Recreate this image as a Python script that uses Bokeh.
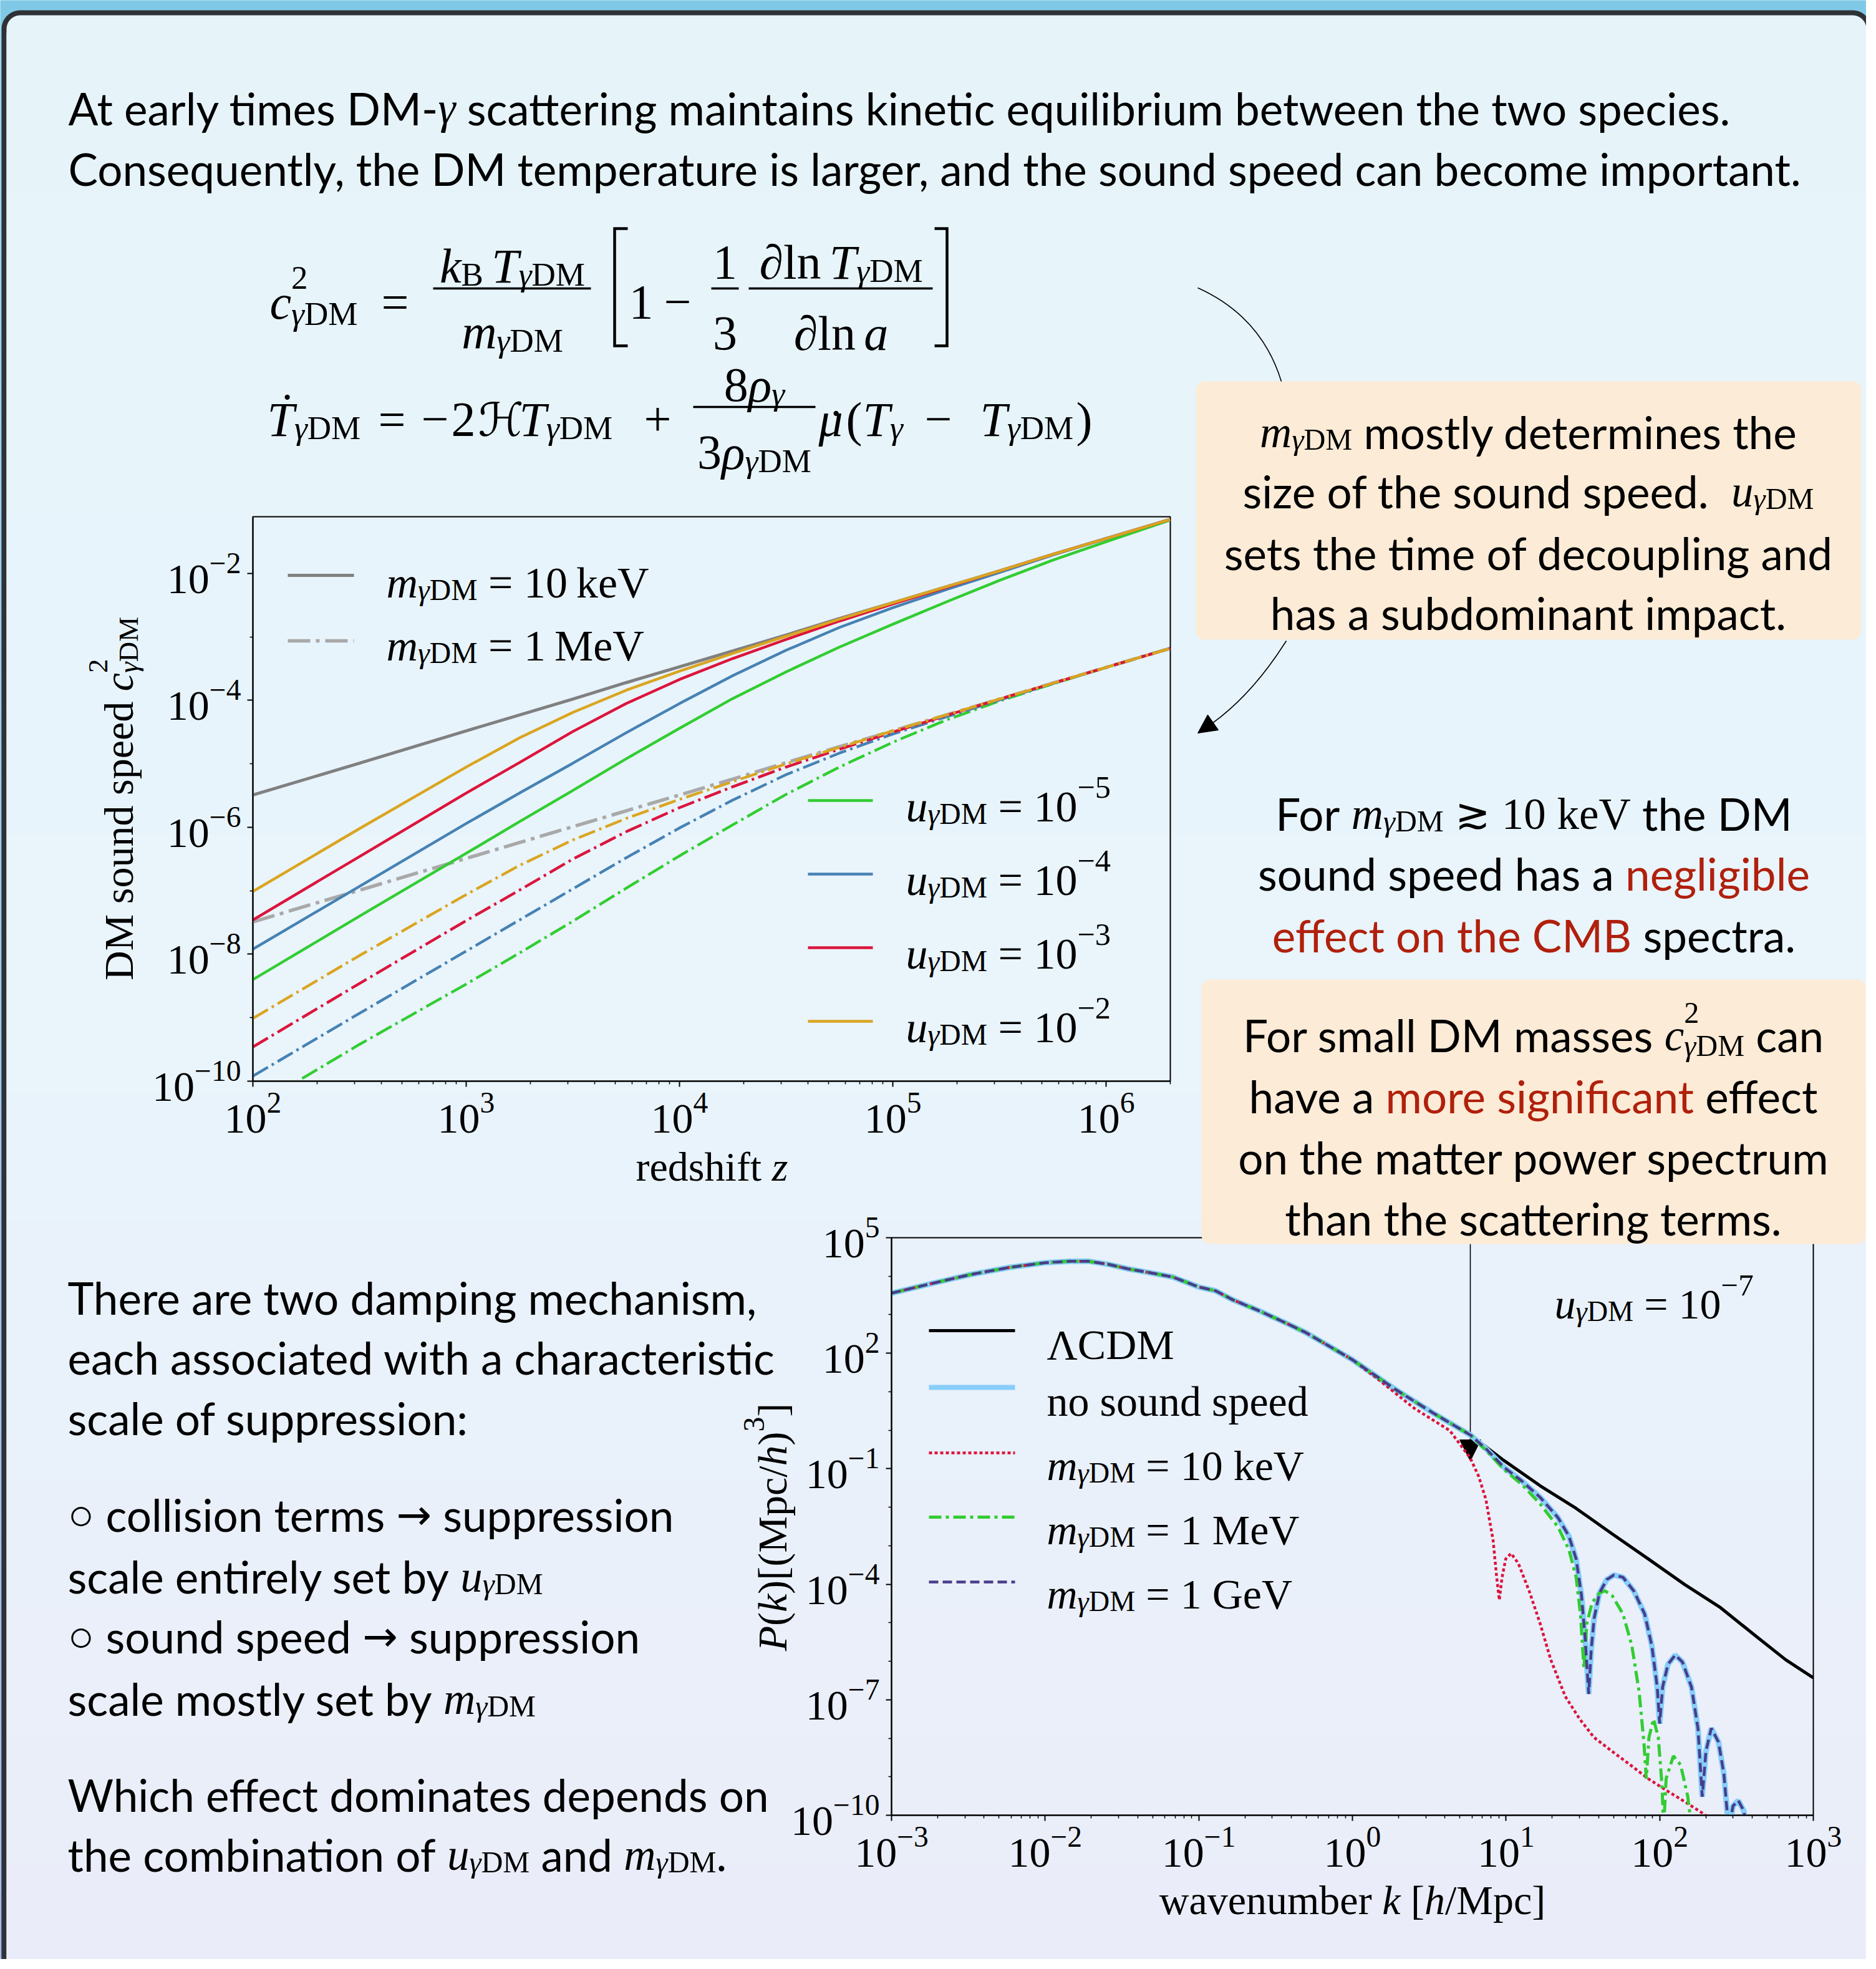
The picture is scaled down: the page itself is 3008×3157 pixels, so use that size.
import glob, os, math
import numpy as np
from bokeh.plotting import figure
from bokeh.models import ColumnDataSource, Range1d, FixedTicker, GridBox, Arrow, NormalHead
from bokeh.core.properties import value, field
from bokeh.embed import file_html
from bokeh.resources import INLINE

try:
    from PIL import ImageFont
except Exception:
    ImageFont = None

# ============================ DATA ============================
# Upper panel: DM sound speed c^2 vs redshift (values read as log10)
log_z = [2.0, 2.5, 3.0, 3.25, 3.5, 3.75, 4.0, 4.25, 4.5, 4.75, 5.0, 5.25, 5.5, 5.75, 6.0, 6.3]
# m = 10 keV (solid)
lc2_10keV_tight = [-5.49, -4.99, -4.48, -4.23, -3.98, -3.72, -3.47, -3.22, -2.97, -2.71, -2.46, -2.21, -1.96, -1.70, -1.45, -1.15]
lc2_10keV_u1e2 = [-7.01, -6.02, -5.05, -4.59, -4.19, -3.84, -3.54, -3.26, -2.99, -2.72, -2.46, -2.21, -1.96, -1.70, -1.45, -1.15]
lc2_10keV_u1e3 = [-7.46, -6.46, -5.46, -4.98, -4.49, -4.05, -3.67, -3.34, -3.04, -2.75, -2.48, -2.22, -1.96, -1.70, -1.45, -1.15]
lc2_10keV_u1e4 = [-7.92, -6.93, -5.94, -5.46, -4.99, -4.51, -4.05, -3.61, -3.21, -2.85, -2.54, -2.255, -1.985, -1.71, -1.45, -1.15]
lc2_10keV_u1e5 = [-8.40, -7.40, -6.41, -5.91, -5.42, -4.92, -4.44, -3.97, -3.55, -3.16, -2.80, -2.45, -2.11, -1.79, -1.50, -1.16]
# m = 1 MeV (dash-dot)
lc2_1MeV_tight = [-7.49, -6.99, -6.49, -6.24, -5.99, -5.74, -5.49, -5.24, -4.98, -4.73, -4.48, -4.23, -3.98, -3.73, -3.48, -3.18]
lc2_1MeV_u1e2 = [-9.01, -8.02, -7.06, -6.60, -6.20, -5.86, -5.56, -5.28, -5.00, -4.74, -4.48, -4.23, -3.98, -3.73, -3.48, -3.18]
lc2_1MeV_u1e3 = [-9.46, -8.46, -7.47, -6.99, -6.50, -6.07, -5.69, -5.36, -5.05, -4.77, -4.50, -4.24, -3.98, -3.73, -3.48, -3.18]
lc2_1MeV_u1e4 = [-9.92, -8.93, -7.95, -7.46, -6.97, -6.48, -6.01, -5.57, -5.17, -4.83, -4.53, -4.26, -3.995, -3.735, -3.48, -3.18]
lc2_1MeV_u1e5 = [-10.42, -9.42, -8.47, -7.98, -7.48, -6.96, -6.45, -5.96, -5.48, -5.05, -4.66, -4.31, -4.01, -3.74, -3.48, -3.18]
u_exponents = ["\u22125", "\u22124", "\u22123", "\u22122"]
u_colors = ["#32cd32", "#4682b4", "#dc143c", "#daa520"]
mass_labels_top = ["10\u2009keV", "1\u2009MeV"]

# Lower panel: matter power spectrum (log10 k, log10 P)
lk_common = [-3.0, -2.75, -2.49, -2.23, -2.0, -1.84, -1.72, -1.59, -1.46, -1.33, -1.17, -1.0,
             -0.89, -0.78, -0.60, -0.42, -0.305, -0.12, 0.0, 0.28, 0.52, 0.77]
lp_common = [3.56, 3.80, 4.04, 4.23, 4.35, 4.39, 4.39, 4.31, 4.19, 4.10, 3.98, 3.72,
             3.62, 3.39, 3.09, 2.76, 2.54, 2.11, 1.83, 1.06, 0.46, -0.13]
lk_lcdm_tail = [0.986, 1.221, 1.456, 1.69, 1.925, 2.16, 2.39, 2.63, 2.82, 3.0]
lp_lcdm_tail = [-0.785, -1.44, -2.03, -2.69, -3.34, -4.0, -4.59, -5.36, -5.96, -6.43]
lk_10keV_tail = [0.165, 0.399, 0.634, 0.768, 0.822, 0.869, 0.916, 0.939, 0.956, 0.974, 0.998, 1.033,
                 1.080, 1.150, 1.221, 1.291, 1.385, 1.479, 1.573, 1.690, 1.808, 1.925, 2.042, 2.160,
                 2.277, 2.35]
lp_10keV_tail = [1.33, 0.58, -0.01, -0.73, -1.20, -1.80, -2.87, -3.82, -4.41, -3.82, -3.34, -3.20,
                 -3.46, -4.17, -5.01, -5.96, -6.91, -7.50, -7.98, -8.34, -8.69, -9.05, -9.35, -9.64,
                 -9.94, -10.15]
lk_1GeV_tail = [0.869, 0.986, 1.103, 1.221, 1.338, 1.409, 1.456, 1.491, 1.514, 1.538, 1.554, 1.573,
                1.608, 1.655, 1.702, 1.761, 1.831, 1.902, 1.949, 1.984, 2.000, 2.019, 2.054, 2.101,
                2.148, 2.207, 2.249, 2.277, 2.301, 2.336, 2.383, 2.418, 2.441, 2.446, 2.477, 2.512,
                2.547, 2.57]
lp_1GeV_tail = [-0.48, -0.96, -1.32, -1.74, -2.27, -2.75, -3.34, -4.29, -5.36, -6.85, -5.72, -4.89,
                -4.23, -3.88, -3.76, -3.82, -4.17, -4.77, -5.60, -6.67, -7.62, -6.67, -6.08, -5.84,
                -6.02, -6.67, -7.74, -9.52, -8.34, -7.74, -8.10, -8.93, -10.0, -10.48, -9.76, -9.62,
                -9.88, -10.48]
lk_nosound_tail = list(lk_1GeV_tail)
lp_nosound_tail = list(lp_1GeV_tail)
lk_1MeV_tail = [0.869, 0.986, 1.103, 1.221, 1.338, 1.409, 1.456, 1.484, 1.507, 1.526, 1.561, 1.608,
                1.643, 1.690, 1.761, 1.819, 1.866, 1.897, 1.913, 1.930, 1.960, 1.991, 2.014, 2.026,
                2.042, 2.089, 2.136, 2.183, 2.207]
lp_1MeV_tail = [-0.52, -1.02, -1.41, -1.91, -2.51, -3.10, -3.82, -4.77, -6.19, -5.01, -4.47, -4.23,
                -4.17, -4.29, -4.77, -5.60, -6.79, -8.10, -9.05, -7.98, -7.50, -7.98, -9.17, -10.3,
                -9.05, -8.46, -8.69, -9.52, -10.3]
pk_labels = ["\u039bCDM", "no sound speed", "10 keV", "1 MeV", "1 GeV"]

# ============================ FONTS / TEXT LAYOUT ============================
FILES = {}
for d in ["/usr/share/fonts", "/usr/local/share/fonts", os.path.expanduser("~/.fonts"),
          os.path.expanduser("~/.local/share/fonts")]:
    for pth in glob.glob(os.path.join(d, "**", "*"), recursive=True):
        if pth.lower().endswith((".ttf", ".otf")):
            FILES.setdefault(os.path.basename(pth).lower(), pth)


def find(*names):
    for n in names:
        if n.lower() in FILES:
            return FILES[n.lower()]
    return None


SANS_FAM, SANS_PATH = "Lato", None
for fam, names in [("Lato", ["Lato-Regular.ttf"]), ("Roboto", ["Roboto-Regular.ttf"]),
                   ("Liberation Sans", ["LiberationSans-Regular.ttf"]), ("DejaVu Sans", ["DejaVuSans.ttf"])]:
    pth = find(*names)
    if pth:
        SANS_FAM, SANS_PATH = fam, pth
        break

SERIF = "Liberation Serif"
PATHS = {"sans": SANS_PATH, "serif": find("LiberationSerif-Regular.ttf"),
         "serif_i": find("LiberationSerif-Italic.ttf"), "djs": find("DejaVuSans.ttf")}
_fonts = {}


def meas(text, key):
    pth = PATHS.get(key)
    if pth and ImageFont is not None:
        f = _fonts.get(pth)
        if f is None:
            try:
                f = ImageFont.truetype(pth, 100)
            except Exception:
                f = False
            _fonts[pth] = f
        if f:
            try:
                return f.getlength(text)
            except Exception:
                pass
    return sum(25 if ch == " " else 50 for ch in text)


INK = "#000000"
RED = "#b0200c"
KINDS = {
    "s": (SANS_FAM, "normal", "sans", 1.0, 0.0, INK),
    "r": (SANS_FAM, "normal", "sans", 1.0, 0.0, RED),
    "mi": (SERIF, "italic", "serif_i", 1.0, 0.0, INK),
    "mr": (SERIF, "normal", "serif", 1.0, 0.0, INK),
    "sub": (SERIF, "normal", "serif", 0.68, 0.17, INK),
    "subi": (SERIF, "italic", "serif_i", 0.68, 0.17, INK),
    "sup": (SERIF, "normal", "serif", 0.72, -0.44, INK),
    "ssub": (SERIF, "normal", "serif", 0.68, 0.24, INK),
    "ssubi": (SERIF, "italic", "serif_i", 0.68, 0.24, INK),
    "ssup": (SERIF, "normal", "serif", 0.68, -0.50, INK),
    "rel": ("DejaVu Sans", "normal", "djs", 0.95, 0.0, INK),
}


def wid(text, kind, size):
    fam, sty, key, f, sh, col = KINDS[kind]
    return meas(text, key) * size * f / 100.0


class Layer:
    def __init__(self):
        self.d = dict(x=[], y=[], text=[], font=[], style=[], size=[], color=[], angle=[])

    def add(self, x, y, text, fam, sty, size, color, angle):
        d = self.d
        d["x"].append(x); d["y"].append(y); d["text"].append(text); d["font"].append(fam)
        d["style"].append(sty); d["size"].append("%.1fpx" % size); d["color"].append(color)
        d["angle"].append(angle)

    def draw(self, fig):
        fig.text(x="x", y="y", text="text", source=ColumnDataSource(self.d),
                 text_font=field("font"), text_font_style=field("style"),
                 text_font_size=field("size"), text_color=field("color"), angle=field("angle"),
                 text_align="left", text_baseline="alphabetic")


def rich(layer, segs, x, y, size, align="left", angle=0.0):
    items = []
    pos = 0.0
    for t, k in segs:
        if k == "ss":
            sup, subs = t
            items.append((sup, "ssup", pos))
            w1 = wid(sup, "ssup", size)
            p2 = pos
            for tt, kk in subs:
                items.append((tt, kk, p2))
                p2 += wid(tt, kk, size)
            pos = max(pos + w1, p2)
        else:
            core = t.strip(" ")
            lead = len(t) - len(t.lstrip(" ")) if core else len(t)
            trail = len(t) - len(t.rstrip(" ")) if core else 0
            sp = wid(" ", k, size)
            pos += lead * sp
            if core:
                items.append((core, k, pos))
                pos += wid(core, k, size)
            pos += trail * sp
    total = pos
    off = {"left": 0.0, "center": total / 2.0, "right": total}[align]
    ca, sa = math.cos(angle), math.sin(angle)
    for text, k, p in items:
        fam, sty, key, f, sh, col = KINDS[k]
        a = p - off
        s = sh * size
        layer.add(x + a * ca + s * sa, y - a * sa + s * ca, text, fam, sty, size * f, col, angle)
    return total


M_ = [("m", "mi"), ("\u03b3", "subi"), ("DM", "sub")]
U_ = [("u", "mi"), ("\u03b3", "subi"), ("DM", "sub")]
C2_ = [("c", "mi"), (("2", [("\u03b3", "ssubi"), ("DM", "ssub")]), "ss")]

S = 77.0
_w = wid("Consequently, the DM temperature is larger, and the sound speed can become important.", "s", 100)
if _w > 0:
    S = max(60.0, min(90.0, 2779.0 / _w * 100.0))
EQ = 78.0

# ============================ HELPERS ============================
W, H = 2992, 3141


def rrect(x0, y0, x1, y1, r, n=12):
    xs, ys = [], []
    for cx, cy, a0 in [(x0 + r, y0 + r, math.pi), (x1 - r, y0 + r, 1.5 * math.pi),
                       (x1 - r, y1 - r, 0.0), (x0 + r, y1 - r, 0.5 * math.pi)]:
        for i in range(n + 1):
            a = a0 + 0.5 * math.pi * i / n
            xs.append(cx + r * math.cos(a)); ys.append(cy + r * math.sin(a))
    return xs, ys


def grad(c1, c2, n):
    return ["#%02x%02x%02x" % tuple(int(round(a + (b - a) * i / max(1, n - 1))) for a, b in zip(c1, c2))
            for i in range(n)]


def style_plot(p, xt, xm, yt, ym):
    p.background_fill_color = None
    p.border_fill_color = None
    p.outline_line_color = "black"
    p.outline_line_width = 2
    p.grid.visible = False
    p.xaxis.ticker = FixedTicker(ticks=xt, minor_ticks=xm)
    p.yaxis.ticker = FixedTicker(ticks=yt, minor_ticks=ym)
    for ax in (p.xaxis, p.yaxis):
        ax.axis_line_width = 2
        ax.major_tick_line_width = 2
        ax.minor_tick_line_width = 1.5
        ax.major_tick_out = 9
        ax.major_tick_in = 0
        ax.minor_tick_out = 5
        ax.minor_tick_in = 0
        ax.major_label_text_font = SERIF
        ax.major_label_text_font_size = "68px"
        ax.major_label_text_color = "black"
        ax.major_label_standoff = 10


# ============================ CANVAS ============================
cv = figure(width=W, height=H, x_range=Range1d(8, 3000), y_range=Range1d(3149, 8),
            x_axis_type=None, y_axis_type=None, output_backend="svg", toolbar_location=None, min_border=0)
cv.outline_line_color = None
cv.background_fill_color = "#86c9e4"
cv.border_fill_color = "#86c9e4"

nb = 30
yb = np.linspace(8, 3149, nb + 1)
cv.quad(left=8, right=3000, top=yb[:-1], bottom=yb[1:] + 1,
        fill_color=grad((128, 201, 230), (143, 155, 222), nb), line_color=None)
px_, py_ = rrect(10, 24, 3008, 3400, 30)
cv.patch(px_, py_, fill_color="#2e3236", line_color=None)
px_, py_ = rrect(18, 32, 3000, 3392, 22)
cv.patch(px_, py_, fill_color="#e6f4fa", line_color=None)
ni = 60
yi = np.linspace(60, 3149, ni + 1)
cols_in = grad((230, 244, 250), (233, 244, 251), ni // 2) + grad((233, 244, 251), (234, 237, 249), ni - ni // 2)
cv.quad(left=18, right=3000, top=yi[:-1], bottom=yi[1:] + 1, fill_color=cols_in, line_color=None)

PEACH = "#fcebd6"
bx_, by_ = rrect(1925, 619, 2992, 1033, 14)
cv.patch(bx_, by_, fill_color=PEACH, line_color=None)

T = Layer()

# top paragraph
rich(T, [("At early times DM-", "s"), ("\u03b3", "mi"),
         (" scattering maintains kinetic equilibrium between the two species.", "s")], 117, 181, S)
rich(T, [("Consequently, the DM temperature is larger, and the sound speed can become important.", "s")],
     117, 278, S)

# equation 1
rich(T, C2_, 440, 492, EQ)
rich(T, [("=", "mr")], 619, 492, EQ)
rich(T, [("k", "mi"), ("B", "sub"), (" ", "sub"), ("T", "mi"), ("\u03b3", "subi"), ("DM", "sub")],
     829, 434, EQ, align="center")
rich(T, M_, 829, 540, EQ, align="center")
rich(T, [("1", "mr")], 1016, 492, EQ)
rich(T, [("\u2212", "mr")], 1072, 492, EQ)
rich(T, [("1", "mr")], 1170, 428, EQ, align="center")
rich(T, [("3", "mr")], 1170, 542, EQ, align="center")
rich(T, [("\u2202", "mr"), ("ln", "mr"), (" ", "sub"), ("T", "mi"), ("\u03b3", "subi"), ("DM", "sub")],
     1356, 428, EQ, align="center")
rich(T, [("\u2202", "mr"), ("ln", "mr"), (" ", "sub"), ("a", "mi")], 1356, 542, EQ, align="center")
cv.segment(x0=[702, 1148, 1208, 1119], y0=[470, 470, 470, 660], x1=[955, 1192, 1503, 1315],
           y1=[470, 470, 470, 660], line_width=3.5, line_color=INK)
cv.multi_line(xs=[[1014, 993, 993, 1014], [1506, 1526, 1526, 1506]],
              ys=[[374, 374, 562, 562], [374, 374, 562, 562]], line_width=4.5, line_color=INK,
              line_join="miter")

# equation 2
rich(T, [("T", "mi"), ("\u03b3", "subi"), ("DM", "sub")], 436, 680, EQ)
rich(T, [("\u02d9", "mr")], 468, 666, EQ, align="center")
rich(T, [("=", "mr")], 614, 680, EQ)
rich(T, [("\u2212", "mr")], 683, 680, EQ)
rich(T, [("2", "mr")], 731, 680, EQ)
rich(T, [("\u210b", "rel")], 774, 680, EQ)
rich(T, [("T", "mi"), ("\u03b3", "subi"), ("DM", "sub")], 840, 680, EQ)
rich(T, [("+", "mr")], 1040, 680, EQ)
rich(T, [("8", "mr"), ("\u03c1", "mi"), ("\u03b3", "subi")], 1217, 625, EQ, align="center")
rich(T, [("3", "mr"), ("\u03c1", "mi"), ("\u03b3", "subi"), ("DM", "sub")], 1217, 733, EQ, align="center")
rich(T, [("\u03bc", "mi")], 1320, 680, EQ)
rich(T, [("\u02d9", "mr")], 1348, 692, EQ, align="center")
rich(T, [("(", "mr")], 1364, 680, EQ)
rich(T, [("T", "mi"), ("\u03b3", "subi")], 1391, 680, EQ)
rich(T, [("\u2212", "mr")], 1490, 680, EQ)
rich(T, [("T", "mi"), ("\u03b3", "subi"), ("DM", "sub")], 1579, 680, EQ)
rich(T, [(")", "mr")], 1733, 680, EQ)

# callout box 1
CX1 = 2458
rich(T, M_ + [(" mostly determines the", "s")], CX1, 700, S, align="center")
rich(T, [("size of the sound speed.  ", "s")] + U_, CX1, 795, S, align="center")
rich(T, [("sets the time of decoupling and", "s")], CX1, 894, S, align="center")
rich(T, [("has a subdominant impact.", "s")], CX1, 990, S, align="center")

# right-hand statement
CX2 = 2467
rich(T, [("For ", "s")] + M_ + [(" ", "s"), ("\u2273", "rel"), (" ", "s"), ("10 keV", "mr"), (" the DM", "s")],
     CX2, 1312, S, align="center")
rich(T, [("sound speed has a ", "s"), ("negligible", "r")], CX2, 1408, S, align="center")
rich(T, [("effect on the CMB", "r"), (" spectra.", "s")], CX2, 1507, S, align="center")

# bottom-left paragraph
LX = 116
rich(T, [("There are two damping mechanism,", "s")], LX, 2088, S)
rich(T, [("each associated with a characteristic", "s")], LX, 2184, S)
rich(T, [("scale of suppression:", "s")], LX, 2281, S)
rich(T, [("\u25cb", "mr"), (" collision terms ", "s"), ("\u2192", "rel"), (" suppression", "s")], LX, 2436, S)
rich(T, [("scale entirely set by ", "s")] + U_, LX, 2535, S)
rich(T, [("\u25cb", "mr"), (" sound speed ", "s"), ("\u2192", "rel"), (" suppression", "s")], LX, 2631, S)
rich(T, [("scale mostly set by ", "s")] + M_, LX, 2731, S)
rich(T, [("Which effect dominates depends on", "s")], LX, 2885, S)
rich(T, [("the combination of ", "s")] + U_ + [(" and ", "s")] + M_ + [(".", "s")], LX, 2981, S)

# upper plot: axis labels + legend
rich(T, [("DM sound speed ", "mr")] + C2_, 198, 1288, 66, align="center", angle=math.pi / 2)
rich(T, [("redshift ", "mr"), ("z", "mi")], 1149, 1878, 66, align="center")
cv.segment(x0=[469], y0=[930], x1=[575], y1=[930], line_color="#808080", line_width=5)
cv.segment(x0=[469], y0=[1035], x1=[575], y1=[1035], line_color="#a9a9a9", line_width=5.5,
           line_dash="36 9 6 9")
for i, lab in enumerate(mass_labels_top):
    rich(T, M_ + [(" = " + lab, "mr")], 627, 942 + i * 101, 70)
for i, (ex, col) in enumerate(zip(u_exponents, u_colors)):
    yy = 1291 + i * 118
    cv.segment(x0=[1303], y0=[yy], x1=[1407], y1=[yy], line_color=col, line_width=4.5)
    rich(T, U_ + [(" = 10", "mr"), (ex, "sup")], 1460, yy + 10, 70)

# lower plot: axis labels, annotation, legend
rich(T, [("P", "mi"), ("(", "mr"), ("k", "mi"), (")[(Mpc/", "mr"), ("h", "mi"), (")", "mr"), ("3", "sup"),
         ("]", "mr")], 1246, 2456, 66, align="center", angle=math.pi / 2)
rich(T, [("wavenumber ", "mr"), ("k", "mi"), (" [", "mr"), ("h", "mi"), ("/Mpc]", "mr")], 2176, 3054, 66,
     align="center")
rich(T, U_ + [(" = 10", "mr"), ("\u22127", "sup")], 2500, 2098, 68)
leg_y = [2141, 2232, 2337, 2440, 2544]
leg_style = [("#000000", 5, "solid"), ("#87cefa", 8, "solid"), ("#dc143c", 4.5, "5 4"),
             ("#32cd32", 5, "20 7 5 7"), ("#483d8b", 4.5, "15 7")]
for yy, (col, lw, dash) in zip(leg_y, leg_style):
    cv.segment(x0=[1497], y0=[yy], x1=[1635], y1=[yy], line_color=col, line_width=lw, line_dash=dash)
rich(T, [(pk_labels[0], "mr")], 1686, 2163, 68)
rich(T, [(pk_labels[1], "mr")], 1686, 2254, 68)
for i, lab in enumerate(pk_labels[2:]):
    rich(T, M_ + [(" = " + lab, "mr")], 1686, 2357 + i * 103, 68)

# arrows
cv.quadratic(x0=[1928, 2070], y0=[469, 1035], x1=[2062, 1937], y1=[619, 1177], cx=[2030, 2010],
             cy=[515, 1130], line_color=INK, line_width=1.6)
cv.add_layout(Arrow(end=NormalHead(size=30, fill_color=INK, line_color=INK), x_start=1938, y_start=1176,
                    x_end=1928, y_end=1183, line_width=1.6, line_color=INK))
cv.add_layout(Arrow(end=NormalHead(size=34, fill_color=INK, line_color=INK), x_start=2365, y_start=2002,
                    x_end=2365, y_end=2350, line_width=1.6, line_color=INK))
T.draw(cv)

# ============================ UPPER PLOT ============================
p1 = figure(width=1691, height=1065, x_axis_type="log", y_axis_type="log",
            x_range=Range1d(1e2, 2e6), y_range=Range1d(1e-10, 10 ** -1.106),
            output_backend="svg", toolbar_location=None,
            min_border_left=200, min_border_right=20, min_border_top=20, min_border_bottom=140)
style_plot(p1, [1e2, 1e3, 1e4, 1e5, 1e6],
           [m * 10 ** e for e in range(2, 7) for m in range(2, 10) if m * 10 ** e <= 2e6],
           [1e-10, 1e-8, 1e-6, 1e-4, 1e-2], [1e-9, 1e-7, 1e-5, 1e-3])
zz = np.power(10.0, log_z)
p1.line(zz, np.power(10.0, lc2_10keV_tight), line_color="#808080", line_width=5)
p1.line(zz, np.power(10.0, lc2_1MeV_tight), line_color="#a9a9a9", line_width=5.5, line_dash="36 9 6 9")
for arr, col in zip([lc2_1MeV_u1e5, lc2_1MeV_u1e4, lc2_1MeV_u1e3, lc2_1MeV_u1e2], u_colors):
    p1.line(zz, np.power(10.0, arr), line_color=col, line_width=4.4, line_dash="28 7 4 7")
for arr, col in zip([lc2_10keV_u1e5, lc2_10keV_u1e4, lc2_10keV_u1e3, lc2_10keV_u1e2], u_colors):
    p1.line(zz, np.power(10.0, arr), line_color=col, line_width=4.4)

# ============================ LOWER PLOT ============================
p2 = figure(width=1748, height=1126, x_axis_type="log", y_axis_type="log",
            x_range=Range1d(1e-3, 1e3), y_range=Range1d(1e-10, 1e5),
            output_backend="svg", toolbar_location=None,
            min_border_left=200, min_border_right=70, min_border_top=60, min_border_bottom=140)
style_plot(p2, [10.0 ** e for e in range(-3, 4)],
           [m * 10.0 ** e for e in range(-3, 3) for m in range(2, 10)],
           [1e-10, 1e-7, 1e-4, 1e-1, 1e2, 1e5],
           [10.0 ** e for e in range(-9, 5) if e not in (-10, -7, -4, -1, 2, 5)])


def pk(lk_tail, lp_tail, upto):
    n = lk_common.index(upto) + 1
    return (np.power(10.0, lk_common[:n] + lk_tail), np.power(10.0, lp_common[:n] + lp_tail))


kx, py = pk(lk_lcdm_tail, lp_lcdm_tail, 0.77)
p2.line(kx, py, line_color="#000000", line_width=5)
kx, py = pk(lk_nosound_tail, lp_nosound_tail, 0.77)
p2.line(kx, py, line_color="#87cefa", line_width=9)
kx, py = pk(lk_10keV_tail, lp_10keV_tail, 0.0)
p2.line(kx, py, line_color="#dc143c", line_width=4.5, line_dash="5 4")
kx, py = pk(lk_1MeV_tail, lp_1MeV_tail, 0.77)
p2.line(kx, py, line_color="#32cd32", line_width=5, line_dash="20 7 5 7")
kx, py = pk(lk_1GeV_tail, lp_1GeV_tail, 0.77)
p2.line(kx, py, line_color="#483d8b", line_width=4.5, line_dash="15 7")

# ============================ OVERLAY (callout box 2) ============================
ov = figure(width=1075, height=440, x_range=Range1d(1925, 3000), y_range=Range1d(2010, 1570),
            x_axis_type=None, y_axis_type=None, output_backend="svg", toolbar_location=None, min_border=0)
ov.outline_line_color = None
ov.background_fill_color = None
ov.border_fill_color = None
bx_, by_ = rrect(1934, 1578, 2999, 2002, 14)
ov.patch(bx_, by_, fill_color=PEACH, line_color=None)
T2 = Layer()
CX3 = 2466
rich(T2, [("For small DM masses ", "s")] + C2_ + [(" can", "s")], CX3, 1667, S, align="center")
rich(T2, [("have a ", "s"), ("more significant", "r"), (" effect", "s")], CX3, 1765, S, align="center")
rich(T2, [("on the matter power spectrum", "s")], CX3, 1863, S, align="center")
rich(T2, [("than the scattering terms.", "s")], CX3, 1961, S, align="center")
T2.draw(ov)

# ============================ GRID ============================
items = [(cv, 8, 8, 3000, 3149), (p1, 213, 816, 1904, 1881), (p2, 1237, 1932, 2985, 3058),
         (ov, 1925, 1570, 3000, 2010)]
xs_b = sorted(set([0, W] + [v - 8 for it in items for v in (it[1], it[3])]))
ys_b = sorted(set([0, H] + [v - 8 for it in items for v in (it[2], it[4])]))
children = []
for fig, x0, y0, x1, y1 in items:
    c0, c1 = xs_b.index(x0 - 8), xs_b.index(x1 - 8)
    r0, r1 = ys_b.index(y0 - 8), ys_b.index(y1 - 8)
    children.append((fig, r0, c0, r1 - r0, c1 - c0))
grid = GridBox(children=children,
               cols=["%dpx" % (b - a) for a, b in zip(xs_b, xs_b[1:])],
               rows=["%dpx" % (b - a) for a, b in zip(ys_b, ys_b[1:])], spacing=0)

open("out.html", "w").write(file_html(grid, INLINE))
